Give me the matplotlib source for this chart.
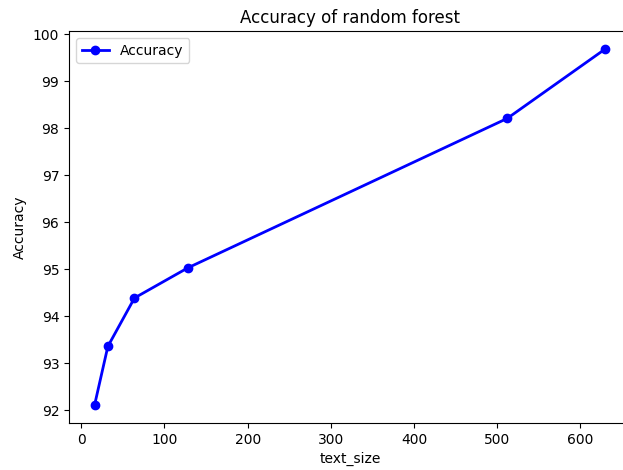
import matplotlib
matplotlib.use("Agg")
import matplotlib.pyplot as plt

text_size = [16, 32, 64, 128, 512, 630]
accuracy = [92.11, 93.36, 94.39, 95.03, 98.21, 99.69]

fig = plt.figure(figsize=(6.23, 4.70), dpi=100)
# axes run a little past the right edge, as in the cropped original
ax = fig.add_axes([69 / 623, 47 / 470, 562 / 623, 392 / 470])
ax.plot(text_size, accuracy, color="blue", marker="o", lw=2, label="Accuracy")
ax.set_title("Accuracy of random forest")
ax.set_xlabel("text_size")
ax.set_ylabel("Accuracy")
ax.legend(loc="upper left")
ax.spines["right"].set_visible(False)
fig.savefig("out.png", dpi=100)
